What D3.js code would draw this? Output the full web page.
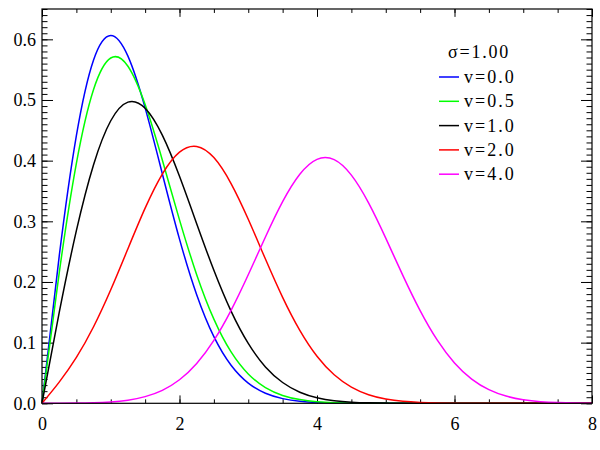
<!DOCTYPE html>
<html>
<head>
<meta charset="utf-8">
<script src="https://cdn.jsdelivr.net/npm/d3@7"></script>
<style>
  body { margin: 0; background: #fff; }
  text { font-family: "Liberation Serif", "DejaVu Serif", serif; }
</style>
<title>Rice pdf</title>
</head>
<body>
<script>
// values, x = 0 .. 8 step 0.25
var xs = d3.range(0, 8.0001, 0.25)
var nu00 = [0, 0.2423, 0.4412, 0.5661, 0.6065, 0.5723, 0.4870, 0.3785, 0.2707, 0.1790, 0.1098, 0.0627, 0.0333,
  0.0165, 0.0077, 0.0033, 0.0013, 0.0005, 0.0002, 0.0001, 0, 0, 0, 0, 0, 0, 0, 0, 0, 0, 0, 0, 0]
var nu05 = [0, 0.2147, 0.3955, 0.5173, 0.5692, 0.5556, 0.4924, 0.4011, 0.3024, 0.2121, 0.1387, 0.0847, 0.0484,
  0.0259, 0.0130, 0.0061, 0.0027, 0.0011, 0.0004, 0.0002, 0.0001, 0, 0, 0, 0, 0, 0, 0, 0, 0, 0, 0, 0]
var nu10 = [0, 0.1493, 0.2846, 0.3934, 0.4658, 0.4965, 0.4864, 0.4420, 0.3742, 0.2961, 0.2192, 0.1519, 0.0987,
  0.0600, 0.0343, 0.0183, 0.0092, 0.0043, 0.0019, 0.0008, 0.0003, 0.0001, 0, 0, 0, 0, 0, 0, 0, 0, 0, 0, 0]
var nu20 = [0, 0.0349, 0.0756, 0.1262, 0.1871, 0.2548, 0.3217, 0.3779, 0.4140, 0.4235, 0.4050, 0.3622, 0.3033,
  0.2378, 0.1747, 0.1203, 0.0776, 0.0470, 0.0267, 0.0142, 0.0071, 0.0033, 0.0015, 0.0006, 0.0002, 0.0001, 0, 0, 0, 0, 0, 0, 0]
var nu40 = [0, 0.0001, 0.0003, 0.0009, 0.0023, 0.0052, 0.0110, 0.0214, 0.0388, 0.0657, 0.1038, 0.1533, 0.2119,
  0.2742, 0.3324, 0.3776, 0.4022, 0.4016, 0.3761, 0.3304, 0.2723, 0.2105, 0.1528, 0.1040, 0.0665, 0.0399, 0.0225,
  0.0119, 0.0059, 0.0027, 0.0012, 0.0005, 0.0002]

var seriesNames = ['v=0.0', 'v=0.5', 'v=1.0', 'v=2.0', 'v=4.0']
var seriesColors = ['#0000ff', '#00ff00', '#000000', '#ff0000', '#ff00ff']
var seriesValues = [nu00, nu05, nu10, nu20, nu40]
var sigmaLabel = 'σ=1.00'
var xTicks = [0, 2, 4, 6, 8]
var yTicks = [0, 0.1, 0.2, 0.3, 0.4, 0.5, 0.6]

var W = 600, H = 450
// plot box edges (don't call these top/left, window.top is read-only)
var pL = 42, pR = 592, pT = 9, pB = 403.3

var svg = d3.select('body').append('svg')
  .attr('width', W).attr('height', H)

var x = d3.scaleLinear().domain([0, 8]).range([pL, pR])
var y = d3.scaleLinear().domain([0, 0.65]).range([pB, pT])

var plotW = pR - pL, plotH = pB - pT
var xMajor = 0.02 * plotH, yMajor = 0.02 * plotW

// axes: bottom/top with labels only on bottom, left/right with labels only on left
function styleAxis(g) {
  g.select('.domain').remove()
  g.selectAll('line').attr('stroke', '#000').attr('stroke-width', 1)
  g.selectAll('text').attr('font-size', 18).attr('fill', '#000')
}

var xMinor = d3.range(0, 8.01, 0.5)
svg.append('g').attr('transform', 'translate(0,' + pB + ')')
  .call(d3.axisTop(x).tickValues(xMinor).tickSize(xMajor / 2).tickFormat(''))
  .call(styleAxis)
svg.append('g').attr('transform', 'translate(0,' + pB + ')')
  .call(d3.axisTop(x).tickValues(xTicks).tickSize(xMajor).tickFormat(''))
  .call(styleAxis)
svg.append('g').attr('transform', 'translate(0,' + pB + ')')
  .call(d3.axisBottom(x).tickValues(xTicks).tickSize(0).tickPadding(14).tickFormat(d3.format('d')))
  .call(styleAxis)

svg.append('g').attr('transform', 'translate(0,' + pT + ')')
  .call(d3.axisBottom(x).tickValues(xMinor).tickSize(xMajor / 2).tickFormat(''))
  .call(styleAxis)
svg.append('g').attr('transform', 'translate(0,' + pT + ')')
  .call(d3.axisBottom(x).tickValues(xTicks).tickSize(xMajor).tickFormat(''))
  .call(styleAxis)

var yMinor = d3.range(0, 0.6501, 0.01)
svg.append('g').attr('transform', 'translate(' + pL + ',0)')
  .call(d3.axisRight(y).tickValues(yMinor).tickSize(yMajor / 2).tickFormat(''))
  .call(styleAxis)
svg.append('g').attr('transform', 'translate(' + pL + ',0)')
  .call(d3.axisRight(y).tickValues(yTicks).tickSize(yMajor).tickFormat(''))
  .call(styleAxis)
svg.append('g').attr('transform', 'translate(' + pL + ',0)')
  .call(d3.axisLeft(y).tickValues(yTicks).tickSize(0).tickPadding(6).tickFormat(d3.format('.1f')))
  .call(styleAxis)

svg.append('g').attr('transform', 'translate(' + pR + ',0)')
  .call(d3.axisLeft(y).tickValues(yMinor).tickSize(yMajor / 2).tickFormat(''))
  .call(styleAxis)
svg.append('g').attr('transform', 'translate(' + pR + ',0)')
  .call(d3.axisLeft(y).tickValues(yTicks).tickSize(yMajor).tickFormat(''))
  .call(styleAxis)

// curves
var line = d3.line()
  .x(function(d, i) { return x(xs[i]) })
  .y(function(d) { return y(d) })
  .curve(d3.curveNatural)

svg.append('g').selectAll('path')
  .data(seriesValues)
  .enter().append('path')
  .attr('d', function(d) { return line(d) })
  .attr('fill', 'none')
  .attr('stroke', function(d, i) { return seriesColors[i] })
  .attr('stroke-width', 1.5)

// frame
svg.append('rect')
  .attr('x', pL).attr('y', pT)
  .attr('width', plotW).attr('height', plotH)
  .attr('fill', 'none').attr('stroke', '#000').attr('stroke-width', 1.2)

// legend (letter-spacing to get the wide look of the original text)
var lg = svg.append('g')
lg.append('text').attr('x', 448).attr('y', 58)
  .attr('font-size', 18).attr('letter-spacing', 1.8).text(sigmaLabel)
var rows = lg.selectAll('g.row').data(seriesNames).enter().append('g')
  .attr('class', 'row')
  .attr('transform', function(d, i) { return 'translate(0,' + (77 + i * 24.3) + ')' })
rows.append('line').attr('x1', 439).attr('x2', 459)
  .attr('stroke', function(d, i) { return seriesColors[i] }).attr('stroke-width', 1.5)
rows.append('text').attr('x', 464).attr('y', 6)
  .attr('font-size', 18).attr('letter-spacing', 2).text(function(d) { return d })
</script>
</body>
</html>
